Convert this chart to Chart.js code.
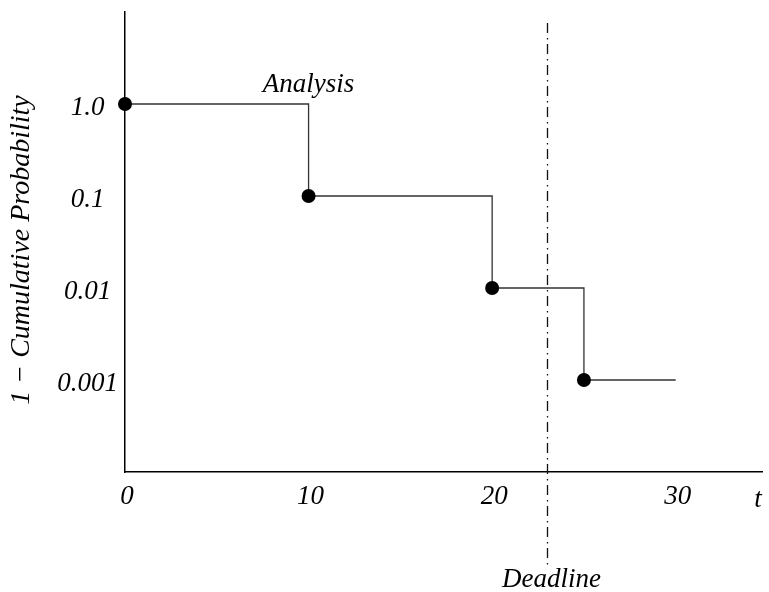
<!DOCTYPE html>
<html>
<head>
<meta charset="utf-8">
<title>1 − Cumulative Probability</title>
<script src="https://cdn.jsdelivr.net/npm/chart.js@4/dist/chart.umd.min.js"></script>
<style>
  html, body { margin: 0; padding: 0; background: #fff; }
  #wrap { width: 769px; height: 592px; position: relative; }
</style>
</head>
<body>
<div id="wrap"><canvas id="c"></canvas></div>
<script>
// Step times and the survival probability reached at each step
const times = [0, 10, 20, 25, 30];
const probabilities = [1, 0.1, 0.01, 0.001, 0.001];

// Axis ticks and their labels
const xTicks = [0, 10, 20, 30];
const xTickLabels = ['0', '10', '20', '30'];
const yTicks = [1, 0.1, 0.01, 0.001];
const yTickLabels = ['1.0', '0.1', '0.01', '0.001'];

// Annotations
const analysisTime = 10;
const deadlineTime = 23;
const yTitle = '1 \u2212 Cumulative Probability';
const xTitle = 't';

const FONT = "'Liberation Serif', 'Times New Roman', Times, serif";
const tickFont = { family: FONT, size: 27, style: 'italic' };

const annotations = {
  id: 'annotations',
  afterDraw(chart) {
    const { ctx, chartArea, scales } = chart;
    const x = scales.x, y = scales.y;
    ctx.save();

    // Deadline marker
    const dx = Math.round(x.getPixelForValue(deadlineTime)) + 0.5;
    ctx.strokeStyle = '#111';
    ctx.lineWidth = 1.3;
    ctx.setLineDash([10, 5, 1.5, 4.5]);
    ctx.beginPath();
    ctx.moveTo(dx, chartArea.top + 11);
    ctx.lineTo(dx, chartArea.bottom + 93);
    ctx.stroke();
    ctx.setLineDash([]);

    ctx.fillStyle = '#000';
    ctx.font = "italic 27px " + FONT;
    ctx.textAlign = 'center';
    ctx.textBaseline = 'alphabetic';
    ctx.fillText('Deadline', dx + 4, chartArea.bottom + 115);

    // Analysis label above the first step
    ctx.fillText('Analysis', x.getPixelForValue(analysisTime), y.getPixelForValue(probabilities[0]) - 12);

    // Time axis symbol
    ctx.fillText(xTitle, chartArea.right - 4, chartArea.bottom + 35);

    // Vertical axis title
    ctx.font = "italic 28px " + FONT;
    ctx.translate(chartArea.left - 103, (chartArea.top + chartArea.bottom) / 2 + 8);
    ctx.rotate(-Math.PI / 2);
    ctx.textBaseline = 'middle';
    ctx.fillText(yTitle, 0, 0);
    ctx.restore();
  }
};

new Chart(document.getElementById('c'), {
  type: 'line',
  data: {
    datasets: [{
      data: times.map((t, i) => ({ x: t, y: probabilities[i] })),
      stepped: true,
      borderColor: '#333',
      borderWidth: 1.3,
      pointRadius: ctx => (ctx.dataIndex < times.length - 1 ? 7 : 0),
      pointBackgroundColor: '#000',
      pointBorderColor: '#000',
      pointBorderWidth: 0,
      clip: false
    }]
  },
  options: {
    responsive: true,
    maintainAspectRatio: false,
    animation: false,
    events: [],
    layout: { padding: { top: 12, right: 0, left: 0, bottom: 0 } },
    plugins: { legend: { display: false }, tooltip: { enabled: false } },
    scales: {
      x: {
        type: 'linear',
        min: 0,
        max: 34.7,
        grid: { display: false, drawTicks: false },
        border: { display: true, color: '#000', width: 1.5 },
        afterBuildTicks: s => { s.ticks = xTicks.map(v => ({ value: v })); },
        afterFit: s => { s.height = 120; s.paddingLeft = 0; s.paddingRight = 0; },
        ticks: {
          font: tickFont,
          color: '#000',
          padding: 9,
          labelOffset: 2,
          maxRotation: 0,
          autoSkip: false,
          callback: v => xTickLabels[xTicks.indexOf(v)]
        }
      },
      y: {
        type: 'logarithmic',
        min: 1e-4,
        max: 10,
        grid: { display: false, drawTicks: false },
        border: { display: true, color: '#000', width: 1.5 },
        afterBuildTicks: s => { s.ticks = yTicks.map(v => ({ value: v })); },
        afterFit: s => { s.width = 125; s.paddingTop = 0; s.paddingBottom = 0; },
        ticks: {
          font: tickFont,
          color: '#000',
          padding: 7,
          crossAlign: 'center',
          labelOffset: 4,
          autoSkip: false,
          callback: v => {
            const i = yTicks.findIndex(t => Math.abs(Math.log10(t) - Math.log10(v)) < 1e-6);
            return i >= 0 ? yTickLabels[i] : '';
          }
        }
      }
    }
  },
  plugins: [annotations]
});
</script>
</body>
</html>
